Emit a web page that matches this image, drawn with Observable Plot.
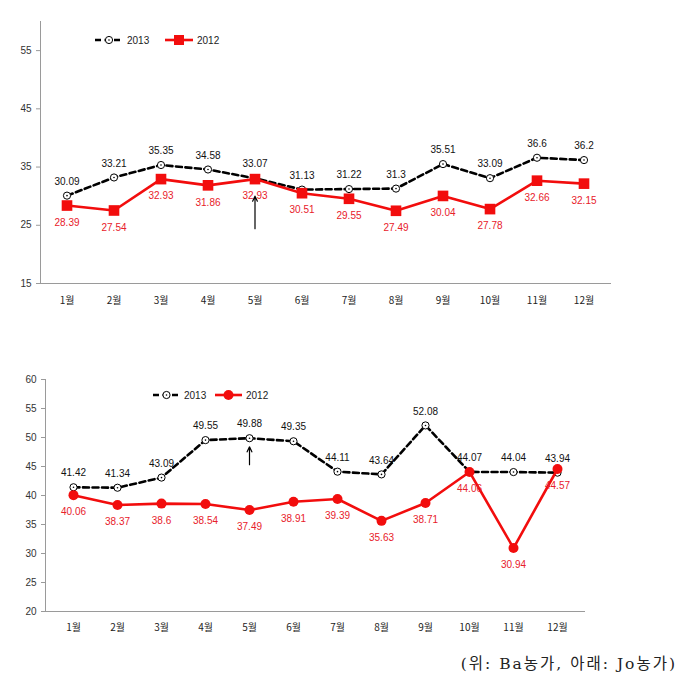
<!DOCTYPE html>
<html><head><meta charset="utf-8">
<script src="https://cdn.jsdelivr.net/npm/d3@7"></script>
<script src="https://cdn.jsdelivr.net/npm/@observablehq/plot@0.6"></script>
<style>
body{margin:0;background:#fff;}
#wrap{position:relative;width:689px;height:681px;overflow:hidden;font-family:"Liberation Sans",sans-serif;}
.chart{position:absolute;left:0;}
.legend{position:absolute;left:0;}
#caption{position:absolute;right:12px;top:651px;font-family:"DejaVu Serif","Noto Sans CJK KR",serif;font-size:15.5px;letter-spacing:2px;color:#222;white-space:nowrap;}
</style></head><body><div id="wrap"></div>
<script>
const months = ["1월","2월","3월","4월","5월","6월","7월","8월","9월","10월","11월","12월"];
const seriesNames = ["2013","2012"];
// 위: Ba농가
const baValues2013 = [30.09,33.21,35.35,34.58,33.07,31.13,31.22,31.3,35.51,33.09,36.6,36.2];
const baValues2012 = [28.39,27.54,32.93,31.86,32.93,30.51,29.55,27.49,30.04,27.78,32.66,32.15];
const baTicks = [15,25,35,45,55];
const baDomain = [15,60];
const baArrow = [{month:"5월", from:24.4, to:30.0}];
// 아래: Jo농가
const joValues2013 = [41.42,41.34,43.09,49.55,49.88,49.35,44.11,43.64,52.08,44.07,44.04,43.94];
const joValues2012 = [40.06,38.37,38.6,38.54,37.49,38.91,39.39,35.63,38.71,44.06,30.94,44.57];
const joTicks = [20,25,30,35,40,45,50,55,60];
const joDomain = [20,60];
const joArrow = [{month:"5월", from:45.3, to:48.4}];
const captionText = "(위: Ba농가, 아래: Jo농가)";

const RED = "#f20d0d";
const wrap = document.getElementById("wrap");

function rows(vals){ return vals.map((v,i)=>({month:months[i], value:v})); }

function chart({top, height, mt, mb, ml, mr, v13, v12, ticks, domain, arrow, redSymbol, redR}){
  const d13 = rows(v13), d12 = rows(v12);
  const p = Plot.plot({
    width:689, height, marginTop:mt, marginBottom:mb, marginLeft:ml, marginRight:mr,
    style:{fontFamily:"'Liberation Sans',sans-serif", fontSize:"10px", color:"#333", background:"transparent", overflow:"visible"},
    x:{type:"band", domain:months, padding:0},
    y:{domain},
    marks:[
      Plot.frame({anchor:"left", stroke:"#9a9a9a"}),
      Plot.frame({anchor:"bottom", stroke:"#9a9a9a"}),
      Plot.axisY({ticks, tickSize:4, tickPadding:5, stroke:"#9a9a9a", fill:"#333", label:null}),
      Plot.axisX({tickSize:0, tickPadding:(mb>40?13:12), fill:"#222", label:null, fontFamily:"'Noto Sans CJK KR',sans-serif", fontSize:10}),
      Plot.line(d13, {x:"month", y:"value", stroke:"#000", strokeWidth:2.6, strokeDasharray:"6,3.5"}),
      Plot.dot(d13, {x:"month", y:"value", r:3.6, fill:"#fff", stroke:"#000", strokeWidth:1}),
      Plot.dot(d13, {x:"month", y:"value", r:0.8, fill:"#000"}),
      Plot.line(d12, {x:"month", y:"value", stroke:RED, strokeWidth:2.6}),
      Plot.dot(d12, {x:"month", y:"value", r:redR, symbol:redSymbol, fill:RED, stroke:"none"}),
      Plot.text(d13, {x:"month", y:"value", text:d=>String(d.value), dy:-14, fill:"#111", fontSize:10}),
      Plot.text(d12, {x:"month", y:"value", text:d=>String(d.value), dy:17, fill:"#e8202a", fontSize:10}),
      Plot.arrow(arrow, {x1:"month", y1:"from", x2:"month", y2:"to", stroke:"#000", strokeWidth:1.2, headLength:7, headAngle:50})
    ]
  });
  p.classList.add("chart");
  p.style.top = top+"px";
  wrap.appendChild(p);
}

function legend({top, items}){
  const svg = d3.create("svg").attr("class","legend").attr("width",689).attr("height",20).style("top",(top-10)+"px");
  for(const it of items){
    const g = svg.append("g");
    g.append("line").attr("x1",it.x0).attr("x2",it.x1).attr("y1",10).attr("y2",10)
      .attr("stroke",it.color).attr("stroke-width",2.6).attr("stroke-dasharray",it.dash||null);
    const cx=(it.x0+it.x1)/2;
    if(it.marker==="open"){
      g.append("circle").attr("cx",cx).attr("cy",10).attr("r",3.6).attr("fill","#fff").attr("stroke","#000");
      g.append("circle").attr("cx",cx).attr("cy",10).attr("r",0.8).attr("fill","#000");
    } else if(it.marker==="square"){
      g.append("rect").attr("x",cx-5).attr("y",5).attr("width",10).attr("height",10).attr("fill",RED);
    } else {
      g.append("circle").attr("cx",cx).attr("cy",10).attr("r",5).attr("fill",RED);
    }
    g.append("text").attr("x",it.x1+4).attr("y",13.5).attr("font-size",10).attr("fill","#222")
      .attr("font-family","'Liberation Sans',sans-serif").text(it.label);
  }
  wrap.appendChild(svg.node());
}

chart({top:0, height:330, mt:21, mb:47, ml:40, mr:79, v13:baValues2013, v12:baValues2012,
  ticks:baTicks, domain:baDomain, arrow:baArrow, redSymbol:"square", redR:6});
chart({top:330, height:315, mt:49, mb:34, ml:45, mr:105, v13:joValues2013, v12:joValues2012,
  ticks:joTicks, domain:joDomain, arrow:joArrow, redSymbol:"circle", redR:5});

legend({top:40, items:[
  {x0:95, x1:123, color:"#000", dash:"6,3.5", marker:"open", label:seriesNames[0]},
  {x0:165, x1:193, color:RED, marker:"square", label:seriesNames[1]}
]});
legend({top:395, items:[
  {x0:153, x1:180, color:"#000", dash:"6,3.5", marker:"open", label:seriesNames[0]},
  {x0:215, x1:242, color:RED, marker:"circle", label:seriesNames[1]}
]});

const cap = document.createElement("div");
cap.id = "caption";
cap.textContent = captionText;
wrap.appendChild(cap);
</script></body></html>
